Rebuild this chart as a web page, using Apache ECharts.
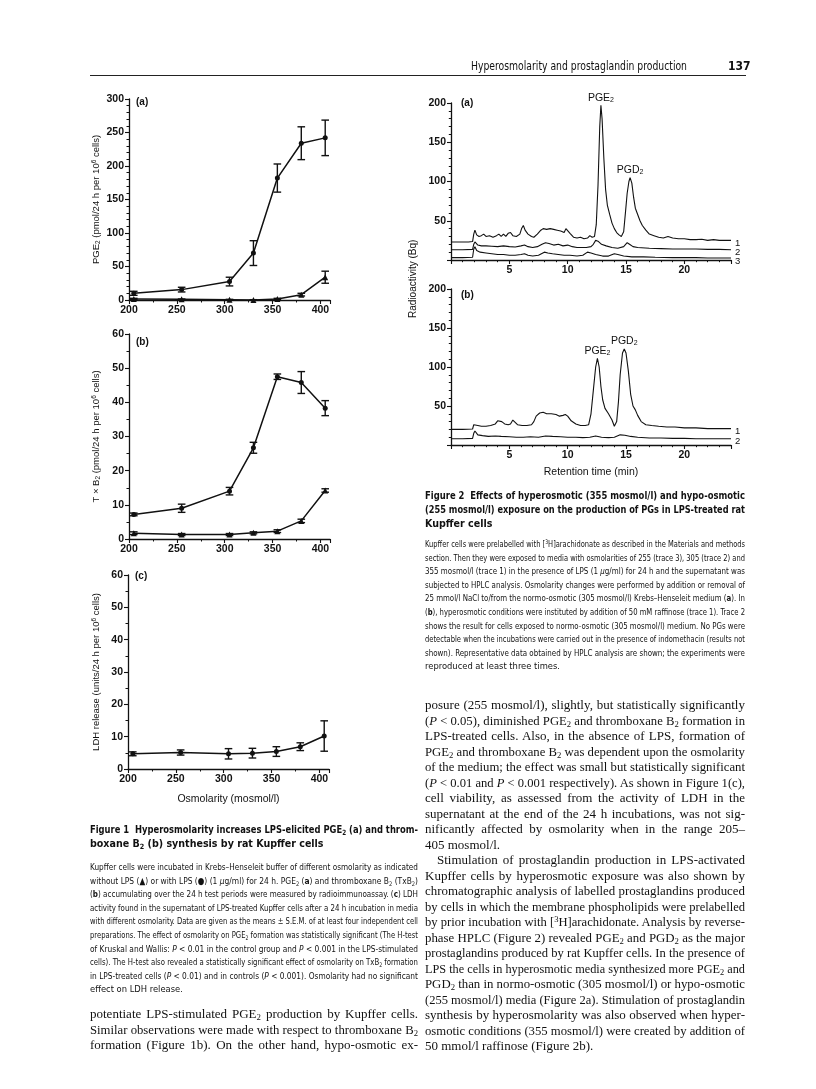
<!DOCTYPE html>
<html>
<head>
<meta charset="utf-8">
<script src="https://cdn.jsdelivr.net/npm/echarts@6/dist/echarts.min.js"></script>
<style>
  html, body { margin: 0; padding: 0; background: #fff; }
  #page { position: relative; width: 816px; height: 1089px; overflow: hidden; color: #111; }
  #chart { position: absolute; left: 0; top: 0; width: 816px; height: 1089px; }
  .blk { position: absolute; }
  .ln { white-space: nowrap; overflow: visible; }
  .ln > span { display: inline-block; transform-origin: 0 50%; }
  .sans { font-family: "Liberation Sans Narrow", "DejaVu Sans Condensed", "Liberation Sans", sans-serif; }
  .cap { font-size: 9.3px; height: 13.6px; line-height: 13.6px; }
  .capt { font-size: 10.6px; font-weight: bold; height: 13.8px; line-height: 13.8px; }
  .body { font-family: "Liberation Serif", "DejaVu Serif", serif; font-size: 13px; height: 15.5px; line-height: 15.5px; }
  sub, sup { font-size: 68%; line-height: 0; }
  sub { vertical-align: -0.25em; }
  sup { vertical-align: 0.45em; }
  .ind { padding-left: 12px; }
</style>
</head>
<body>
<div id="page">
  <div id="chart"></div>

  <!-- running head -->
  <div class="blk sans" style="left:471px;top:59px;width:216px;font-size:11.5px;line-height:14px;">
    <div class="ln j">Hyperosmolarity and prostaglandin production</div>
  </div>
  <div class="blk sans" style="left:728px;top:59px;font-size:12px;font-weight:bold;line-height:14px;">137</div>
  <div class="blk" style="left:90px;top:75px;width:656px;height:1.4px;background:#222;"></div>

  <!-- Figure 1 caption -->
  <div class="blk sans" style="left:90px;top:823px;width:328px;">
    <div class="ln j capt">Figure 1&nbsp; Hyperosmolarity increases LPS-elicited PGE<sub>2</sub> (a) and throm-</div>
    <div class="ln capt">boxane B<sub>2</sub> (b) synthesis by rat Kupffer cells</div>
  </div>
  <div class="blk sans" style="left:90px;top:860px;width:328px;">
    <div class="ln j cap">Kupffer cells were incubated in Krebs–Henseleit buffer of different osmolarity as indicated</div>
    <div class="ln j cap">without LPS (&#9650;) or with LPS (&#9679;) (1 <i>&mu;</i>g/ml) for 24 h. PGE<sub>2</sub> (<b>a</b>) and thromboxane B<sub>2</sub> (TxB<sub>2</sub>)</div>
    <div class="ln j cap">(<b>b</b>) accumulating over the 24 h test periods were measured by radioimmunoassay. (<b>c</b>) LDH</div>
    <div class="ln j cap">activity found in the supernatant of LPS-treated Kupffer cells after a 24 h incubation in media</div>
    <div class="ln j cap">with different osmolarity. Data are given as the means &plusmn; S.E.M. of at least four independent cell</div>
    <div class="ln j cap">preparations. The effect of osmolarity on PGE<sub>2</sub> formation was statistically significant (The H-test</div>
    <div class="ln j cap">of Kruskal and Wallis: <i>P</i> &lt; 0.01 in the control group and <i>P</i> &lt; 0.001 in the LPS-stimulated</div>
    <div class="ln j cap">cells). The H-test also revealed a statistically significant effect of osmolarity on TxB<sub>2</sub> formation</div>
    <div class="ln j cap">in LPS-treated cells (<i>P</i> &lt; 0.01) and in controls (<i>P</i> &lt; 0.001). Osmolarity had no significant</div>
    <div class="ln cap">effect on LDH release.</div>
  </div>

  <!-- left column body -->
  <div class="blk body" style="left:90px;top:1006px;width:328px;height:auto;">
    <div class="ln j body">potentiate LPS-stimulated PGE<sub>2</sub> production by Kupffer cells.</div>
    <div class="ln j body">Similar observations were made with respect to thromboxane B<sub>2</sub></div>
    <div class="ln j body">formation (Figure 1b). On the other hand, hypo-osmotic ex-</div>
  </div>

  <!-- Figure 2 caption -->
  <div class="blk sans" style="left:425px;top:489px;width:320px;">
    <div class="ln j capt">Figure 2&nbsp; Effects of hyperosmotic (355 mosmol/l) and hypo-osmotic</div>
    <div class="ln j capt">(255 mosmol/l) exposure on the production of PGs in LPS-treated rat</div>
    <div class="ln capt">Kupffer cells</div>
  </div>
  <div class="blk sans" style="left:425px;top:537px;width:320px;">
    <div class="ln j cap">Kupffer cells were prelabelled with [<sup>3</sup>H]arachidonate as described in the Materials and methods</div>
    <div class="ln j cap">section. Then they were exposed to media with osmolarities of 255 (trace 3), 305 (trace 2) and</div>
    <div class="ln j cap">355 mosmol/l (trace 1) in the presence of LPS (1 <i>&mu;</i>g/ml) for 24 h and the supernatant was</div>
    <div class="ln j cap">subjected to HPLC analysis. Osmolarity changes were performed by addition or removal of</div>
    <div class="ln j cap">25 mmol/l NaCl to/from the normo-osmotic (305 mosmol/l) Krebs–Henseleit medium (<b>a</b>). In</div>
    <div class="ln j cap">(<b>b</b>), hyperosmotic conditions were instituted by addition of 50 mM raffinose (trace 1). Trace 2</div>
    <div class="ln j cap">shows the result for cells exposed to normo-osmotic (305 mosmol/l) medium. No PGs were</div>
    <div class="ln j cap">detectable when the incubations were carried out in the presence of indomethacin (results not</div>
    <div class="ln j cap">shown). Representative data obtained by HPLC analysis are shown; the experiments were</div>
    <div class="ln cap">reproduced at least three times.</div>
  </div>

  <!-- right column body -->
  <div class="blk" style="left:425px;top:697px;width:320px;">
    <div class="ln j body">posure (255 mosmol/l), slightly, but statistically significantly</div>
    <div class="ln j body">(<i>P</i> &lt; 0.05), diminished PGE<sub>2</sub> and thromboxane B<sub>2</sub> formation in</div>
    <div class="ln j body">LPS-treated cells. Also, in the absence of LPS, formation of</div>
    <div class="ln j body">PGE<sub>2</sub> and thromboxane B<sub>2</sub> was dependent upon the osmolarity</div>
    <div class="ln j body">of the medium; the effect was small but statistically significant</div>
    <div class="ln j body">(<i>P</i> &lt; 0.01 and <i>P</i> &lt; 0.001 respectively). As shown in Figure 1(c),</div>
    <div class="ln j body">cell viability, as assessed from the activity of LDH in the</div>
    <div class="ln j body">supernatant at the end of the 24 h incubations, was not sig-</div>
    <div class="ln j body">nificantly affected by osmolarity when in the range 205–</div>
    <div class="ln body">405 mosmol/l.</div>
    <div class="ln j body ind">Stimulation of prostaglandin production in LPS-activated</div>
    <div class="ln j body">Kupffer cells by hyperosmotic exposure was also shown by</div>
    <div class="ln j body">chromatographic analysis of labelled prostaglandins produced</div>
    <div class="ln j body">by cells in which the membrane phospholipids were prelabelled</div>
    <div class="ln j body">by prior incubation with [<sup>3</sup>H]arachidonate. Analysis by reverse-</div>
    <div class="ln j body">phase HPLC (Figure 2) revealed PGE<sub>2</sub> and PGD<sub>2</sub> as the major</div>
    <div class="ln j body">prostaglandins produced by rat Kupffer cells. In the presence of</div>
    <div class="ln j body">LPS the cells in hyperosmotic media synthesized more PGE<sub>2</sub> and</div>
    <div class="ln j body">PGD<sub>2</sub> than in normo-osmotic (305 mosmol/l) or hypo-osmotic</div>
    <div class="ln j body">(255 mosmol/l) media (Figure 2a). Stimulation of prostaglandin</div>
    <div class="ln j body">synthesis by hyperosmolarity was also observed when hyper-</div>
    <div class="ln j body">osmotic conditions (355 mosmol/l) were created by addition of</div>
    <div class="ln body">50 mmol/l raffinose (Figure 2b).</div>
  </div>
</div>

<script>
// Figure 1 data, x = osmolarity (mosmol/l)
const osmolarity = [205, 255, 305, 330, 355, 380, 405];
const pge2Lps = [10, 15.5, 27.5, 70, 182, 234, 242];
const pge2LpsErr = [3, 3.5, 6.5, 18.5, 21, 24.5, 26.5];
const pge2Ctrl = [1.5, 1, 0.5, 0, 1.5, 8, 34];
const pge2CtrlErr = [1, 0.5, 0.5, 0.5, 1, 2, 9];
const txb2Lps = [7.2, 9, 14, 26.7, 47.5, 45.8, 38.3];
const txb2LpsErr = [0.4, 1.2, 1.1, 1.6, 0.8, 3.2, 2.2];
const txb2Ctrl = [1.7, 1.3, 1.3, 1.8, 2.3, 5.3, 14.2];
const txb2CtrlErr = [0.4, 0.3, 0.3, 0.3, 0.4, 0.5, 0.5];
const ldhLps = [4.7, 5.1, 4.7, 4.9, 5.4, 6.9, 10.2];
const ldhLpsErr = [0.6, 0.8, 1.6, 1.5, 1.5, 1.2, 4.7];

// Figure 2 HPLC traces [retention time (min), radioactivity (Bq)]
const traceA1 = [[0,23],[0.5,23],[1,23],[1.5,23],[1.85,23.5],[1.95,33],[2.05,38],[2.2,32],[2.4,30],[2.6,31],[2.8,33],[3.0,30],[3.3,31],[3.6,29],[3.9,31],[4.1,33],[4.3,30],[4.5,33],[4.7,30],[4.9,34],[5.1,35],[5.3,31],[5.6,30],[5.9,33],[6.05,40],[6.2,44],[6.35,38],[6.6,33],[6.9,30],[7.1,29],[7.4,33],[7.7,38],[7.9,40],[8.2,39],[8.5,40],[8.8,39],[9.1,38],[9.4,37],[9.7,35],[9.85,40],[10.0,39],[10.2,34],[10.5,29],[10.8,28],[11.1,29],[11.4,27],[11.7,28],[11.9,31],[12.1,29],[12.3,30],[12.45,45],[12.6,95],[12.75,170],[12.85,197],[12.95,180],[13.1,130],[13.25,90],[13.4,70],[13.6,58],[13.8,47],[14.0,40],[14.2,35],[14.4,32],[14.6,30],[14.8,36],[14.95,60],[15.1,85],[15.25,100],[15.35,105],[15.5,98],[15.65,80],[15.8,66],[16.0,58],[16.2,50],[16.4,44],[16.7,38],[17.0,33],[17.4,31],[17.8,29],[18.2,28],[18.6,30],[19.0,28],[19.5,27],[20.0,27],[20.5,26],[21,26],[21.5,26.5],[22,25],[22.5,26],[23,25],[23.5,25],[24,25]];
const traceA2 = [[0,13],[1,13],[1.85,13.5],[1.95,20],[2.05,23],[2.3,19],[2.6,18],[3,18],[3.5,17.5],[4,17],[4.5,18],[5,17],[5.5,16.5],[6,18],[6.3,19],[6.6,17],[7,16],[7.4,17],[7.8,20],[8.1,22],[8.4,21],[8.8,19],[9.2,20],[9.6,18],[10,19],[10.4,17],[10.8,16],[11.2,16],[11.6,16],[12,17],[12.2,20],[12.4,25],[12.6,24],[12.9,20],[13.3,18],[13.8,16],[14.3,15],[14.8,17],[15.1,22],[15.3,20],[15.6,17],[16,16],[17,15],[18,14.5],[19,14],[20,14],[21,14],[22,13.5],[23,13.5],[24,13]];
const traceA3 = [[0,3],[1,3],[1.85,3.5],[1.95,14],[2.05,17],[2.2,12],[2.5,10],[3,9],[3.5,8],[4,7],[4.5,7],[5,6],[5.5,6],[6,7],[6.3,8],[6.6,6],[7,5],[7.5,6],[8,10],[8.3,9],[8.7,8],[9.2,7],[9.7,6],[10.2,6],[10.8,5],[11.3,6],[11.7,10],[12,9],[12.4,7],[13,5],[13.5,5],[14,8],[14.3,7],[14.8,5],[15.5,4],[16.5,4],[17.5,3.5],[19,3],[20,3],[21,3],[22,2.5],[23,2.5],[24,2.5]];
const traceB1 = [[0,20],[1,20],[1.85,20.5],[1.95,26],[2.05,28],[2.3,25],[2.6,24],[3,24],[3.4,25],[3.8,27],[4.0,31],[4.15,33],[4.35,30],[4.6,27],[4.9,26],[5.1,27],[5.3,32],[5.45,31],[5.7,26],[6.1,25],[6.5,25],[6.9,26],[7.1,30],[7.3,37],[7.6,41],[7.9,42],[8.2,40],[8.6,40],[9.0,39],[9.3,37],[9.6,38],[9.8,39],[10.0,37],[10.3,31],[10.7,27],[11.1,25],[11.5,25],[11.8,26],[12.0,40],[12.2,70],[12.4,100],[12.55,111],[12.7,100],[12.85,75],[13.0,58],[13.2,47],[13.5,40],[13.8,32],[14.0,24],[14.2,30],[14.35,55],[14.5,90],[14.7,118],[14.85,123],[15.0,118],[15.2,95],[15.4,65],[15.6,50],[15.8,45],[16.0,38],[16.3,30],[16.7,26],[17.2,25],[17.8,24],[18.5,23],[19.2,23],[20,22],[21,22],[22,21],[23,21],[24,21]];
const traceB2 = [[0,8],[1,8],[1.85,8.5],[1.95,15],[2.05,18],[2.3,13],[2.7,12],[3.2,11],[3.8,11.5],[4.3,11],[5,10.5],[5.6,10],[6.2,10],[6.8,10.5],[7.5,10],[8.1,11.5],[8.7,11],[9.4,10.5],[10,10],[10.7,10],[11.3,9.5],[11.9,10],[12.4,11.5],[12.9,10],[13.5,9.5],[14,10],[14.5,13],[14.9,12.5],[15.4,11],[16,10],[17,9],[18,9],[19,8.5],[20,8.5],[21,8],[22,8],[23,8],[24,8]];
const peaksA = [[12.85, 197, 'PGE'], [15.35, 105, 'PGD']];
const peaksB = [[12.55, 111, 'PGE'], [14.85, 123, 'PGD']];

const osmTicks = [200, 250, 300, 350, 400];
const timeTicks = [5, 10, 15, 20];

const FONT = '"Liberation Sans", Arial, sans-serif';
const ink = '#111';

const rich = {
  n: { fontSize: 9.5, fontFamily: FONT, color: ink },
  s: { fontSize: 6.5, fontFamily: FONT, color: ink, verticalAlign: 'bottom', padding: [4, 0, 0, 0] },
  p: { fontSize: 6.5, fontFamily: FONT, color: ink, verticalAlign: 'top', padding: [0, 0, 3, 0] }
};

function xOsm(i, withName) {
  return {
    type: 'value', gridIndex: i, min: 200, max: 410, interval: 50,
    name: withName ? 'Osmolarity (mosmol/l)' : '', nameLocation: 'middle', nameGap: 25,
    nameTextStyle: { fontSize: 10.5, fontFamily: FONT, color: ink },
    axisLine: { lineStyle: { color: ink, width: 1.3 } },
    axisTick: { length: 4, lineStyle: { width: 1.1 } },
    minorTick: { show: true, splitNumber: 2, length: 2.5, lineStyle: { color: ink } },
    splitLine: { show: false },
    axisLabel: { color: ink, fontSize: 10.5, fontWeight: 'bold', fontFamily: FONT, margin: 5,
      formatter: v => osmTicks.indexOf(v) >= 0 ? String(v) : '' }
  };
}
function yLin(i, max, interval, minorSplit, name) {
  return {
    type: 'value', gridIndex: i, min: 0, max: max, interval: interval,
    name: name, nameLocation: 'middle', nameRotate: 90, nameGap: 27,
    nameTextStyle: { rich: rich },
    axisLine: { show: true, lineStyle: { color: ink, width: 1.3 } },
    axisTick: { show: true, length: 4, lineStyle: { width: 1.1 } },
    minorTick: { show: true, splitNumber: minorSplit, length: 2.5, lineStyle: { color: ink } },
    splitLine: { show: false },
    axisLabel: { color: ink, fontSize: 10.5, fontWeight: 'bold', fontFamily: FONT, margin: 5 }
  };
}
function xTime(i, withName) {
  return {
    type: 'value', gridIndex: i, min: 0, max: 24, interval: 5,
    name: withName ? 'Retention time (min)' : '', nameLocation: 'middle', nameGap: 22,
    nameTextStyle: { fontSize: 10.5, fontFamily: FONT, color: ink },
    axisLine: { lineStyle: { color: ink, width: 1.3 } },
    axisTick: { length: 4, lineStyle: { width: 1.1 } },
    minorTick: { show: true, splitNumber: 5, length: 2.2, lineStyle: { color: ink } },
    splitLine: { show: false },
    axisLabel: { color: ink, fontSize: 10.5, fontWeight: 'bold', fontFamily: FONT, margin: 5,
      formatter: v => timeTicks.indexOf(v) >= 0 ? String(v) : '' }
  };
}
function yRad(i) {
  return {
    type: 'value', gridIndex: i, min: 0, max: 200, interval: 50,
    axisLine: { show: true, lineStyle: { color: ink, width: 1.3 } },
    axisTick: { show: true, length: 4, lineStyle: { width: 1.1 } },
    minorTick: { show: true, splitNumber: 5, length: 2.2, lineStyle: { color: ink } },
    splitLine: { show: false },
    axisLabel: { color: ink, fontSize: 10.5, fontWeight: 'bold', fontFamily: FONT, margin: 5,
      formatter: v => v === 0 ? '' : String(v) }
  };
}

function pts(xs, ys) { return xs.map((x, i) => [x, ys[i]]); }
function errPts(xs, ys, es) { return xs.map((x, i) => [x, ys[i], es[i]]); }

function errRender(params, api) {
  const x = api.value(0), y = api.value(1), e = api.value(2);
  const t = api.coord([x, y + e]);
  const b = api.coord([x, y - e]);
  const c = 3.8;
  const st = { stroke: ink, lineWidth: 1.4 };
  return { type: 'group', children: [
    { type: 'line', shape: { x1: t[0], y1: t[1], x2: b[0], y2: b[1] }, style: st },
    { type: 'line', shape: { x1: t[0] - c, y1: t[1], x2: t[0] + c, y2: t[1] }, style: st },
    { type: 'line', shape: { x1: b[0] - c, y1: b[1], x2: b[0] + c, y2: b[1] }, style: st }
  ]};
}
function errSeries(idx, data) {
  return { type: 'custom', xAxisIndex: idx, yAxisIndex: idx, data: data, renderItem: errRender, z: 3, silent: true };
}
function dataLine(idx, data, sym, size) {
  return { type: 'line', xAxisIndex: idx, yAxisIndex: idx, data: data, smooth: false,
    symbol: sym, symbolSize: size, itemStyle: { color: ink }, lineStyle: { color: ink, width: 1.5 }, z: 4 };
}
function trace(idx, data, num) {
  return { type: 'line', xAxisIndex: idx, yAxisIndex: idx, data: data, showSymbol: false, symbol: 'none',
    lineStyle: { color: ink, width: 1.1 },
    endLabel: { show: true, formatter: num, fontSize: 9.5, fontFamily: FONT, color: ink, distance: 4, offset: [0, 3] } };
}
function peakLabels(idx, data) {
  return { type: 'scatter', xAxisIndex: idx, yAxisIndex: idx, symbolSize: 0.1,
    itemStyle: { color: ink, opacity: 1 },
    data: data.map(d => [d[0], d[1], d[2]]),
    label: { show: true, position: 'top', distance: 2, color: ink, opacity: 1, textBorderWidth: 0,
      formatter: p => '{n|' + p.value[2] + '}{s|2}',
      rich: {
        n: { fontSize: 10.5, fontFamily: FONT, color: ink },
        s: { fontSize: 7, fontFamily: FONT, color: ink, verticalAlign: 'bottom', padding: [4, 0, 0, 0] }
      } } };
}

function panelLabel(x, y, t) {
  return { type: 'text', left: x, top: y, style: { text: t, font: 'bold 10px ' + FONT, fill: ink } };
}

const chart = echarts.init(document.getElementById('chart'), null, { renderer: 'canvas' });
chart.setOption({
  animation: false,
  grid: [
    { left: 129, top: 99, width: 201, height: 201 },
    { left: 129, top: 334, width: 201, height: 205 },
    { left: 128, top: 575, width: 201, height: 194 },
    { left: 451, top: 103, width: 280, height: 157 },
    { left: 451, top: 289, width: 280, height: 156 }
  ],
  xAxis: [xOsm(0, false), xOsm(1, false), xOsm(2, true), xTime(3, false), xTime(4, true)],
  yAxis: [
    yLin(0, 300, 50, 5, '{n|PGE}{s|2}{n| (pmol/24 h per 10}{p|6}{n| cells)}'),
    yLin(1, 60, 10, 2, '{n|T × B}{s|2}{n| (pmol/24 h per 10}{p|6}{n| cells)}'),
    yLin(2, 60, 10, 2, '{n|LDH release (units/24 h per 10}{p|6}{n| cells)}'),
    yRad(3), yRad(4)
  ],
  graphic: [
    panelLabel(136, 97, '(a)'),
    panelLabel(136, 337, '(b)'),
    panelLabel(135, 571, '(c)'),
    panelLabel(461, 98, '(a)'),
    panelLabel(461, 290, '(b)'),
    { type: 'text', x: 408, y: 318, rotation: Math.PI / 2,
      style: { text: 'Radioactivity (Bq)', font: '10px ' + FONT, fill: ink } }
  ],
  series: [
    errSeries(0, errPts(osmolarity, pge2Lps, pge2LpsErr)),
    errSeries(0, errPts(osmolarity, pge2Ctrl, pge2CtrlErr)),
    dataLine(0, pts(osmolarity, pge2Lps), 'circle', 5),
    dataLine(0, pts(osmolarity, pge2Ctrl), 'triangle', 6),
    errSeries(1, errPts(osmolarity, txb2Lps, txb2LpsErr)),
    errSeries(1, errPts(osmolarity, txb2Ctrl, txb2CtrlErr)),
    dataLine(1, pts(osmolarity, txb2Lps), 'circle', 5),
    dataLine(1, pts(osmolarity, txb2Ctrl), 'triangle', 6),
    errSeries(2, errPts(osmolarity, ldhLps, ldhLpsErr)),
    dataLine(2, pts(osmolarity, ldhLps), 'circle', 5),
    trace(3, traceA1, '1'),
    trace(3, traceA2, '2'),
    trace(3, traceA3, '3'),
    peakLabels(3, peaksA),
    trace(4, traceB1, '1'),
    trace(4, traceB2, '2'),
    peakLabels(4, peaksB)
  ]
});

// justify / fit each text line to its column width
function fitLines() {
  document.querySelectorAll('.ln').forEach(ln => {
    if (!ln.firstElementChild || ln.firstElementChild.className !== 'fit') {
      ln.innerHTML = '<span class="fit">' + ln.innerHTML + '</span>';
    }
    const sp = ln.firstElementChild;
    sp.style.transform = '';
    sp.style.wordSpacing = '';
    const cs = getComputedStyle(ln);
    const w = ln.parentNode.clientWidth - parseFloat(cs.paddingLeft || 0);
    const nat = sp.getBoundingClientRect().width;
    if (nat > w) {
      sp.style.transform = 'scaleX(' + (w / nat) + ')';
    } else if (ln.classList.contains('j')) {
      const n = (sp.textContent.match(/ /g) || []).length;
      if (n > 0) sp.style.wordSpacing = ((w - nat) / n) + 'px';
    }
  });
}
fitLines();
if (document.fonts && document.fonts.ready) document.fonts.ready.then(fitLines);
</script>
</body>
</html>
